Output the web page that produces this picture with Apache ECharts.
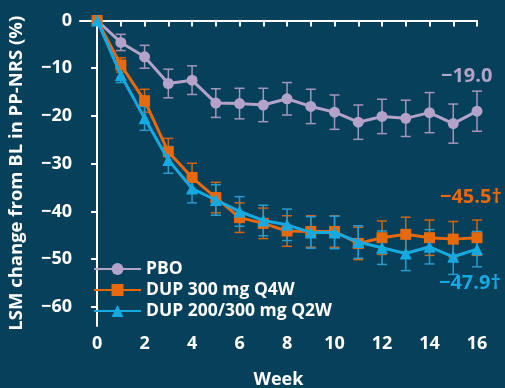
<!DOCTYPE html>
<html>
<head>
<meta charset="utf-8">
<script src="https://cdn.jsdelivr.net/npm/echarts@6/dist/echarts.min.js"></script>
<style>
  html, body { margin: 0; padding: 0; background: #06405a; }
  #chart { width: 505px; height: 388px; }
</style>
</head>
<body>
<div id="chart"></div>
<script>
// data (LSM % change from baseline)
var weeks = [0, 1, 2, 3, 4, 5, 6, 7, 8, 9, 10, 11, 12, 13, 14, 15, 16];
var pbo   = [0, -4.6, -7.6, -13.2, -12.5, -17.3, -17.4, -17.7, -16.4, -18.0, -19.2, -21.3, -20.1, -20.5, -19.3, -21.6, -19.0];
var pboSe = [0, 1.7, 2.4, 3.0, 3.0, 3.0, 3.2, 3.5, 3.4, 3.6, 3.6, 3.6, 3.6, 3.8, 4.2, 4.1, 4.2];
var q4w   = [0, -9.3, -16.8, -27.5, -32.9, -37.1, -41.3, -42.5, -44.1, -44.2, -44.2, -46.7, -45.5, -44.8, -45.5, -45.8, -45.5];
var q4wSe = [0, 1.5, 2.4, 2.8, 3.0, 3.2, 3.1, 3.2, 3.2, 3.3, 3.3, 3.4, 3.5, 3.6, 3.7, 3.7, 3.7];
var q2w   = [0, -11.4, -20.5, -29.2, -35.2, -37.6, -40.0, -41.9, -42.8, -44.4, -44.4, -46.4, -47.6, -48.8, -47.4, -49.5, -47.9];
var q2wSe = [0, 1.6, 2.5, 2.8, 3.0, 3.2, 3.1, 3.2, 3.3, 3.3, 3.4, 3.4, 3.5, 3.6, 3.6, 3.7, 3.7];
var names = ['PBO', 'DUP 300 mg Q4W', 'DUP 200/300 mg Q2W'];
var endLabels = ['\u221219.0', '\u221245.5\u2020', '\u221247.9\u2020'];
var xTicks = [0, 1, 2, 3, 4, 5, 6, 7, 8, 9, 10, 11, 12, 13, 14, 15, 16];
var xLabels = [0, 2, 4, 6, 8, 10, 12, 14, 16];
var yTicks = [0, -10, -20, -30, -40, -50, -60];

var cLilac = '#b3a3c9', cOrange = '#e8690c', cBlue = '#15a9e1';
var font = '"Open Sans", sans-serif';

var chart = echarts.init(document.getElementById('chart'));

function pairs(v) {
    return weeks.map(function (w, i) { return [w, v[i]]; });
}
function bars(v, se) {
    var out = [];
    weeks.forEach(function (w, i) {
        if (se[i] > 0) out.push([w, v[i], v[i] - se[i], v[i] + se[i]]);
    });
    return out;
}
function errRender(color) {
    return function (params, api) {
        var lo = api.coord([api.value(0), api.value(2)]);
        var hi = api.coord([api.value(0), api.value(3)]);
        var w = 5;
        var st = { stroke: color, lineWidth: 1.5 };
        return {
            type: 'group',
            children: [
                { type: 'line', shape: { x1: lo[0], y1: lo[1], x2: hi[0], y2: hi[1] }, style: st },
                { type: 'line', shape: { x1: lo[0] - w, y1: lo[1], x2: lo[0] + w, y2: lo[1] }, style: st },
                { type: 'line', shape: { x1: hi[0] - w, y1: hi[1], x2: hi[0] + w, y2: hi[1] }, style: st }
            ]
        };
    };
}
function minus(v) { return String(v).replace('-', '\u2212'); }

var option = {
    backgroundColor: '#06405a',
    animation: false,
    textStyle: { fontFamily: font },
    grid: { left: 80, right: 28, top: 20.5, bottom: 62, outerBoundsMode: 'none' },
    legend: {
        orient: 'vertical',
        left: 88,
        top: 255,
        itemGap: 3,
        itemWidth: 47,
        itemHeight: 15,
        data: names,
        textStyle: { color: '#ffffff', fontSize: 17.5, fontWeight: 'bold', fontFamily: font }
    },
    xAxis: {
        type: 'value',
        min: -0.72,
        max: 16,
        name: 'Week',
        nameLocation: 'middle',
        nameGap: 45,
        nameTextStyle: { color: '#ffffff', fontSize: 18, fontWeight: 'bold' },
        axisLine: { lineStyle: { color: '#ffffff', width: 2 } },
        axisTick: { customValues: xTicks, length: 6, lineStyle: { color: '#ffffff', width: 2 } },
        axisLabel: { customValues: xLabels, color: '#ffffff', fontSize: 18, fontWeight: 'bold', margin: 9 },
        splitLine: { show: false }
    },
    yAxis: {
        type: 'value',
        min: -64,
        max: 0,
        name: 'LSM change from BL in PP-NRS (%)',
        nameLocation: 'middle',
        nameGap: 54,
        nameTextStyle: { color: '#ffffff', fontSize: 18.5, fontWeight: 'bold' },
        axisLine: { show: true, lineStyle: { color: '#ffffff', width: 2 } },
        axisTick: { show: true, customValues: yTicks, length: 6, lineStyle: { color: '#ffffff', width: 2 } },
        axisLabel: { customValues: yTicks, color: '#ffffff', fontSize: 18, fontWeight: 'bold', margin: 8, formatter: minus },
        splitLine: { show: false }
    },
    series: [
        { type: 'custom', renderItem: errRender('#a595bc'), data: bars(pbo, pboSe), z: 1, silent: true },
        { type: 'custom', renderItem: errRender('#d0650f'), data: bars(q4w, q4wSe), z: 1, silent: true },
        { type: 'custom', renderItem: errRender('#2a9bcc'), data: bars(q2w, q2wSe), z: 1, silent: true },
        {
            name: names[0], type: 'line', data: pairs(pbo), z: 3,
            symbol: 'circle', symbolSize: 11,
            lineStyle: { color: cLilac, width: 3 }, itemStyle: { color: cLilac }
        },
        {
            name: names[1], type: 'line', data: pairs(q4w), z: 4,
            symbol: 'rect', symbolSize: 11,
            lineStyle: { color: cOrange, width: 3 }, itemStyle: { color: cOrange }
        },
        {
            name: names[2], type: 'line', data: pairs(q2w), z: 5,
            symbol: 'triangle', symbolSize: 12,
            lineStyle: { color: cBlue, width: 3 }, itemStyle: { color: cBlue }
        }
    ],
    graphic: [
        { type: 'text', left: 441, top: 66, style: { text: endLabels[0], fill: cLilac, font: 'bold 20px ' + font } },
        { type: 'text', left: 440, top: 187, style: { text: endLabels[1], fill: cOrange, font: 'bold 20px ' + font } },
        { type: 'text', left: 439, top: 273, style: { text: endLabels[2], fill: cBlue, font: 'bold 20px ' + font } }
    ]
};
chart.setOption(option);
</script>
</body>
</html>
